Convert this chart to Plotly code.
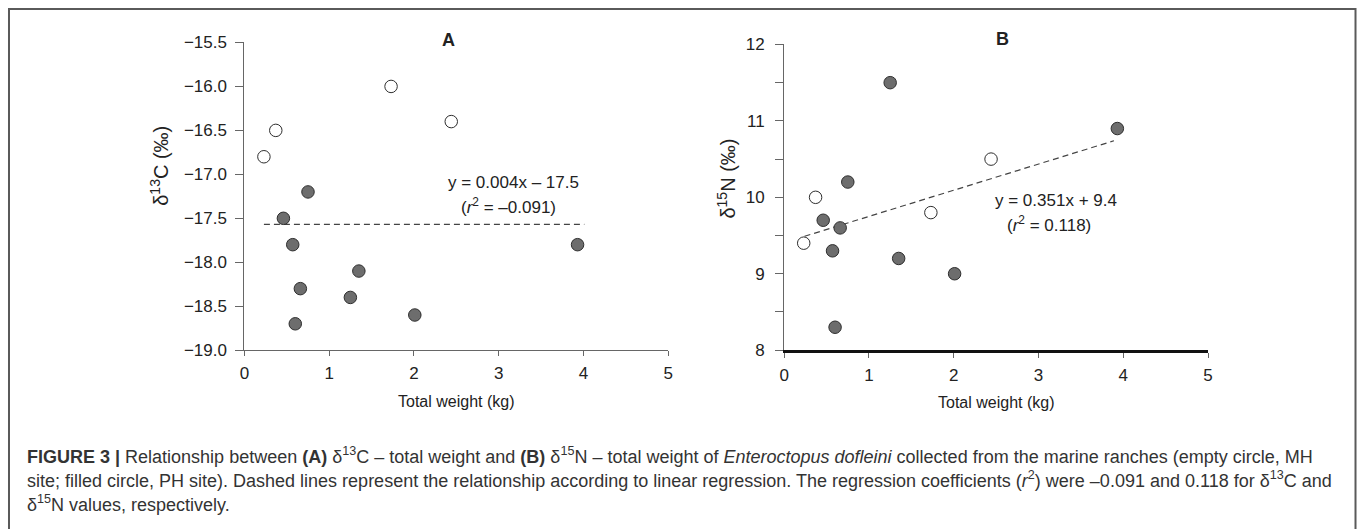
import plotly.graph_objects as go

W, H = 1358, 529

# ---------------- data ----------------
mh_weight = [0.23, 0.37, 1.73, 2.44]          # empty circles (MH site)
mh_d13c = [-16.8, -16.5, -16.0, -16.4]
mh_d15n = [9.4, 10.0, 9.8, 10.5]

ph_weight = [0.46, 0.75, 0.57, 1.35, 0.66, 1.25, 0.60, 2.01, 3.93]  # filled circles (PH site)
ph_d13c = [-17.5, -17.2, -17.8, -18.1, -18.3, -18.4, -18.7, -18.6, -17.8]
ph_d15n = [9.7, 10.2, 9.3, 9.2, 9.6, 11.5, 8.3, 9.0, 10.9]

fit_a_x = [0.23, 4.01]
fit_a_y = [-17.57, -17.57]
fit_b_x = [0.24, 3.89]
fit_b_y = [9.49, 10.74]

x_ticks = [0, 1, 2, 3, 4, 5]
a_yticks = [-19.0, -18.5, -18.0, -17.5, -17.0, -16.5, -16.0, -15.5]
b_yticks = [8, 9, 10, 11, 12]

eq_a = ["y = 0.004x \u2013 17.5", "(<i>r</i><sup>2</sup> = \u20130.091)"]
eq_b = ["y = 0.351x + 9.4", "(<i>r</i><sup>2</sup> = 0.118)"]

caption = [
    "<b>FIGURE 3 |</b> Relationship between <b>(A)</b> \u03b4<sup>13</sup>C \u2013 total weight and <b>(B)</b> \u03b4<sup>15</sup>N \u2013 total weight of <i>Enteroctopus dofleini</i> collected from the marine ranches (empty circle, MH",
    "site; filled circle, PH site). Dashed lines represent the relationship according to linear regression. The regression coefficients (<i>r</i><sup>2</sup>) were \u20130.091 and 0.118 for \u03b4<sup>13</sup>C and",
    "\u03b4<sup>15</sup>N values, respectively.",
]

# ---------------- helpers (pixel positions -> paper fractions) ----------------
def px(x):
    return ((x - 3.5) / 0.993) / W

def py(y):
    return (H - (y - 8.5) / 0.965) / H

FONT = "Liberation Sans, Arial, sans-serif"

fill_marker = dict(size=12.5, color="#6d6d6d", line=dict(color="#2e2e2e", width=1))
open_marker = dict(size=12.5, color="white", line=dict(color="#2e2e2e", width=1))
dash_line = dict(color="#444444", width=1.2, dash="6px,4px")

fig = go.Figure()

# Panel A
fig.add_trace(go.Scatter(x=fit_a_x, y=fit_a_y, mode="lines", line=dash_line,
                         xaxis="x", yaxis="y", showlegend=False, hoverinfo="skip"))
fig.add_trace(go.Scatter(x=mh_weight, y=mh_d13c, mode="markers", marker=open_marker,
                         xaxis="x", yaxis="y", name="MH site", showlegend=False))
fig.add_trace(go.Scatter(x=ph_weight, y=ph_d13c, mode="markers", marker=fill_marker,
                         xaxis="x", yaxis="y", name="PH site", showlegend=False))
# Panel B
fig.add_trace(go.Scatter(x=fit_b_x, y=fit_b_y, mode="lines", line=dash_line,
                         xaxis="x2", yaxis="y2", showlegend=False, hoverinfo="skip"))
fig.add_trace(go.Scatter(x=mh_weight, y=mh_d15n, mode="markers", marker=open_marker,
                         xaxis="x2", yaxis="y2", name="MH site", showlegend=False))
fig.add_trace(go.Scatter(x=ph_weight, y=ph_d15n, mode="markers", marker=fill_marker,
                         xaxis="x2", yaxis="y2", name="PH site", showlegend=False))

tickfont = dict(family=FONT, size=17, color="#222222")
axis_common = dict(showgrid=False, zeroline=False, showline=True, ticks="outside",
                   tickwidth=1, tickfont=tickfont, tickcolor="#666666")

fig.update_layout(
    width=W, height=H,
    margin=dict(l=0, r=0, t=0, b=0),
    paper_bgcolor="white", plot_bgcolor="rgba(0,0,0,0)",
    xaxis=dict(domain=[px(243), px(667)], range=[0, 5], tickvals=x_ticks,
               linecolor="#666666", linewidth=1.2, anchor="y", ticklen=5,
               ticklabelstandoff=2, **axis_common),
    yaxis=dict(domain=[py(350), py(42)], range=[-19.0, -15.5], tickvals=a_yticks,
               tickformat=".1f", linecolor="#666666", linewidth=1.2, anchor="x", ticklen=8,
               ticklabelstandoff=5, **axis_common),
    xaxis2=dict(domain=[px(783), px(1207)], range=[0, 5], tickvals=x_ticks,
                linecolor="#111111", linewidth=3, anchor="y2", ticklen=5,
                ticklabelstandoff=2, **axis_common),
    yaxis2=dict(domain=[py(350), py(44)], range=[8, 12], tickvals=b_yticks,
                linecolor="#666666", linewidth=1.2, anchor="x2", ticklen=8,
                ticklabelstandoff=7,
                minor=dict(dtick=0.5, ticks="outside", ticklen=8, tickcolor="#666666"),
                **axis_common),
)

ann = []
def text(x, y, s, size=15, bold=False, angle=0, xanchor="center", color="#222222"):
    ann.append(dict(xref="paper", yref="paper", x=px(x), y=py(y), text=(f"<b>{s}</b>" if bold else s),
                    showarrow=False, xanchor=xanchor, yanchor="middle", textangle=angle,
                    font=dict(family=FONT, size=size, color=color)))

text(447, 40, "A", size=18, bold=True)
text(1001, 39, "B", size=18, bold=True)
text(512, 182, eq_a[0], size=17)
text(507, 206, eq_a[1], size=17)
text(1055, 200, eq_b[0], size=17)
text(1048, 224, eq_b[1], size=17)
text(455, 401, "Total weight (kg)", size=16)
text(995, 402, "Total weight (kg)", size=16)
text(158, 165, "\u03b4<sup>13</sup>C (\u2030)", size=20, angle=-90)
text(725, 178, "\u03b4<sup>15</sup>N (\u2030)", size=20, angle=-90)
for i, line in enumerate(caption):
    text(24, 455 + 24 * i, line, size=18, xanchor="left", color="#333333")

fig.update_layout(annotations=ann)

fig.add_shape(type="rect", xref="paper", yref="paper",
              x0=px(7.5), x1=px(1354.5), y0=-0.05, y1=py(8.5),
              line=dict(color="#5a5a5a", width=2), fillcolor="rgba(0,0,0,0)")

post = ("document.documentElement.style.overflow='hidden';"
        "document.body.style.margin='0px';document.body.style.overflow='hidden';"
        "var d=document.getElementById('{plot_id}');"
        "d.style.position='fixed';d.style.left='0px';d.style.top='0px';")

fig.write_html("out.html", config={"displayModeBar": False}, post_script=post)
